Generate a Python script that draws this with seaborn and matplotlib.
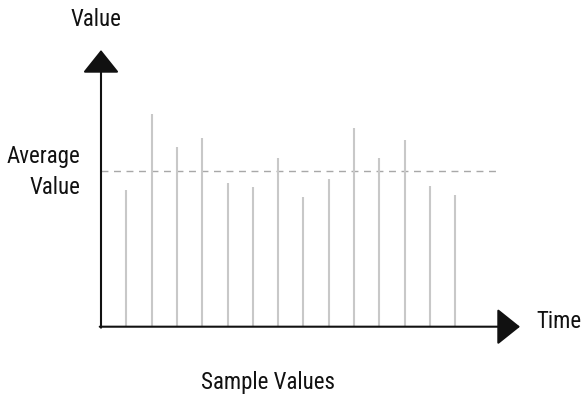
import matplotlib
matplotlib.use("Agg")
import matplotlib.pyplot as plt
import seaborn as sns
import numpy as np

# sample values (heights)
sample_idx = list(range(1, 15))
sample_vals = [13.7, 21.3, 18.0, 18.9, 14.4, 14.0, 16.9, 13.0, 14.8, 19.9, 16.9, 18.7, 14.1, 13.2]
avg_val = 15.6

sns.set_theme(style="white")
plt.rcParams['font.family'] = ['Roboto Condensed', 'Liberation Sans Narrow', 'Roboto', 'DejaVu Sans']

W, H = 581, 398
fig = plt.figure(figsize=(W / 100, H / 100), dpi=100)

# axes box in pixels: origin at (101, 326.7), x tip at 520, y tip at 50
x0, y0 = 101, 326.7
ax = fig.add_axes([x0 / W, (H - y0) / H, (520 - x0) / W, (y0 - 50) / H])
ax.set_xlim(0, (520 - x0) / 25.3)
ax.set_ylim(0, (y0 - 50) / 10)
ax.axis('off')

# stems
ax.vlines(sample_idx, 0, sample_vals, color='#c8c8c8', lw=1.5, zorder=2)

# average line
ax.plot([0, (500 - x0) / 25.3], [avg_val, avg_val], color='#a8a8a8', lw=1,
        dashes=(5, 4), zorder=1)

# axis arrows
xmax = ax.get_xlim()[1]
ymax = ax.get_ylim()[1]
arrow = dict(arrowstyle='-|>,head_length=1.0,head_width=0.8', lw=1.5,
             color='#111111', mutation_scale=14.4, shrinkA=0, shrinkB=0)
ax.annotate('', xy=(0, ymax), xytext=(0, -0.1), arrowprops=arrow, annotation_clip=False)
ax.annotate('', xy=(xmax, 0), xytext=(-0.05, 0), arrowprops=arrow, annotation_clip=False)

# labels
fs = 16.5
txt = dict(fontsize=fs, color='#111111', fontweight='normal')
fig.text(95.5 / W, 1 - 19 / H, 'Value', ha='center', va='center', **txt)
fig.text(80 / W, 1 - 172 / H, 'Average\nValue', ha='right', va='center',
         multialignment='right', linespacing=1.42, **txt)
fig.text(536 / W, 1 - 322 / H, 'Time', ha='left', va='center', **txt)
fig.text(268 / W, 1 - 382 / H, 'Sample Values', ha='center', va='center', **txt)

fig.savefig('out.png', dpi=100)
